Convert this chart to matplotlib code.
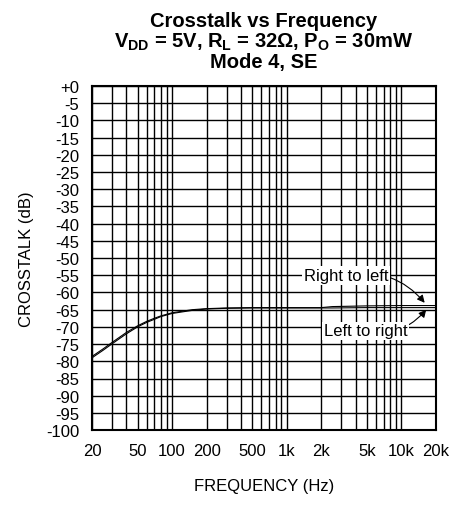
import matplotlib
matplotlib.use("Agg")
import matplotlib.pyplot as plt
import numpy as np

plt.rcParams['font.family'] = ['Liberation Sans', 'DejaVu Sans']
plt.rcParams['mathtext.fontset'] = 'custom'
plt.rcParams['mathtext.rm'] = 'Liberation Sans:bold'
plt.rcParams['mathtext.bf'] = 'Liberation Sans:bold'
plt.rcParams['mathtext.it'] = 'Liberation Sans:bold'

freq = [20, 25, 30, 40, 50, 60, 70, 80, 100, 150, 200, 300, 500, 1000, 2000, 2500, 5000, 10000, 20000]
left_to_right = [-79.0, -76.8, -74.9, -72.0, -70.0, -68.7, -67.8, -67.0, -66.1, -65.2, -64.8, -64.6, -64.5, -64.5, -64.5, -64.5, -64.4, -64.4, -64.4]
right_to_left = [-78.6, -76.4, -74.5, -71.6, -69.7, -68.4, -67.5, -66.8, -65.9, -65.0, -64.7, -64.5, -64.4, -64.4, -64.4, -64.1, -63.9, -63.8, -63.8]

xticks = [20, 50, 100, 200, 500, 1000, 2000, 5000, 10000, 20000]
xticklabels = ['20', '50', '100', '200', '500', '1k', '2k', '5k', '10k', '20k']
yticks = list(range(0, -105, -5))
yticklabels = ['+0'] + [str(v) for v in yticks[1:]]

fig = plt.figure(figsize=(4.53, 5.06), dpi=100)
ax = fig.add_axes([0.203, 0.148, 0.759, 0.680])

ax.plot(freq, left_to_right, color='black', lw=0.8)
ax.plot(freq, right_to_left, color='black', lw=0.8)

ax.set_xscale('log')
ax.set_xlim(20, 20000)
ax.set_ylim(-100, 0)

minor = []
for dec in [10, 100, 1000, 10000]:
    for m in range(1, 10):
        v = dec * m
        if 20 <= v <= 20000:
            minor.append(v)
ax.set_xticks(minor, minor=True)
ax.set_xticks(xticks)
ax.set_xticklabels(xticklabels)
ax.xaxis.set_minor_formatter(matplotlib.ticker.NullFormatter())
ax.set_yticks(yticks)
ax.set_yticklabels(yticklabels)
ax.grid(True, which='both', color='black', lw=1.0)
ax.tick_params(which='both', length=0, labelsize=12)
ax.tick_params(axis='y', pad=9)
ax.tick_params(axis='x', pad=9)
for s in ax.spines.values():
    s.set_linewidth(1.5)

ax.set_xlabel('FREQUENCY (Hz)', fontsize=12, labelpad=15)
ax.set_ylabel('CROSSTALK (dB)', fontsize=12, labelpad=9)

title = ('Crosstalk vs Frequency\n'
         r'V$_{DD}$ = 5V, R$_{L}$ = 32Ω, P$_{O}$ = 30mW' '\n'
         'Mode 4, SE')
ax.set_title(title, fontsize=14.5, fontweight='bold', linespacing=1.0, pad=14)

bbox = dict(boxstyle='square,pad=0.1', fc='white', ec='none')
ax.annotate('Right to left', xy=(16000, -63.0), xytext=(3300, -55.1),
            fontsize=12, ha='center', va='center', bbox=bbox,
            arrowprops=dict(arrowstyle='-|>', color='black', lw=0.8,
                            connectionstyle='arc3,rad=-0.3', shrinkA=0, shrinkB=0,
                            mutation_scale=11))
ax.annotate('Left to right', xy=(16500, -65.0), xytext=(4900, -71.1),
            fontsize=12, ha='center', va='center', bbox=bbox,
            arrowprops=dict(arrowstyle='-|>', color='black', lw=0.8,
                            connectionstyle='arc3,rad=0.3', shrinkA=0, shrinkB=0,
                            mutation_scale=11))

fig.savefig('out.png', dpi=100)
